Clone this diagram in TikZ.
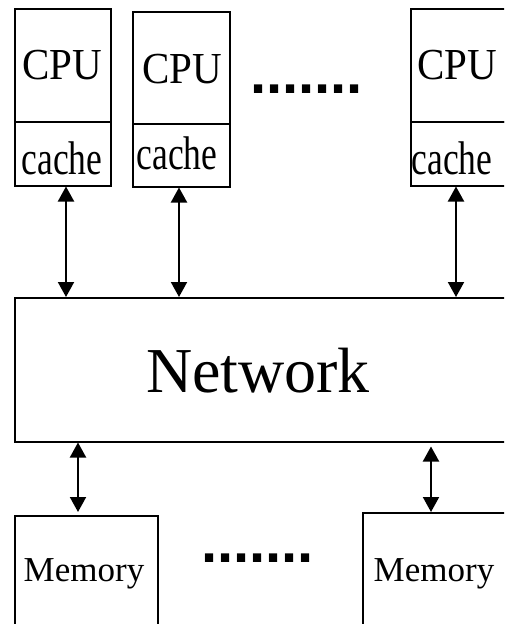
\documentclass[tikz,border=0pt]{standalone}
\usepackage{graphicx}
\usepackage{fontspec}
\setmainfont{Liberation Serif}
\newfontfamily\dotsfont{Liberation Sans}
\usetikzlibrary{arrows.meta}
\newcommand{\cpulbl}{\scalebox{1}[1.08]{\fontsize{41}{41}\selectfont CPU}}
\newcommand{\cachelbl}{\scalebox{1}[1.33]{\fontsize{35.5}{35.5}\selectfont cache}}
\tikzset{
  box/.style={draw, line width=1.5pt, rectangle, inner sep=0pt, anchor=north west},
  lbl/.style={anchor=base, inner sep=0pt},
  link/.style={line width=2pt, {Triangle[width=16pt,length=15pt]}-{Triangle[width=16pt,length=15pt]}},
  dotrow/.style={anchor=base west, inner sep=0pt, font=\dotsfont\bfseries\fontsize{58}{58}\selectfont}
}
\begin{document}
\begin{tikzpicture}[x=1pt,y=-1pt]
\useasboundingbox (0,0) rectangle (504,624);
\clip (0,0) rectangle (504,624);
% CPU boxes
\node[box, minimum width=96pt, minimum height=113pt] (cpu1) at (14,8) {};
\node[box, minimum width=96pt, minimum height=64pt] (cache1) at (14,121) {};
\node[box, minimum width=97pt, minimum height=112pt] (cpu2) at (132,11) {};
\node[box, minimum width=97pt, minimum height=63pt] (cache2) at (132,123) {};
\node[box, minimum width=110pt, minimum height=113pt] (cpu3) at (410,8) {};
\node[box, minimum width=110pt, minimum height=64pt] (cache3) at (410,121) {};
% labels
\node[lbl] (t1) at (62,79.5) {\cpulbl};
\node[lbl] (c1) at (62,174.5) {\cachelbl};
\node[lbl] (t2) at (182,83) {\cpulbl};
\node[lbl] (c2) at (177,169) {\cachelbl};
\node[lbl] (t3) at (457,79.5) {\cpulbl};
\node[lbl] (c3) at (452,174.5) {\cachelbl};
% dots
\node[dotrow] (dtop) at (250,93) {.......};
\node[dotrow] (dbot) at (201,562) {.......};
% network
\node[box, minimum width=506pt, minimum height=144pt] (net) at (14,297) {};
\node[lbl, font=\fontsize{64}{64}\selectfont] (nt) at (258,392) {Network};
% memory
\node[box, minimum width=143pt, minimum height=120pt] (mem1) at (14,515) {};
\node[box, minimum width=158pt, minimum height=120pt] (mem2) at (362,512) {};
\node[lbl, font=\fontsize{35}{35}\selectfont] (m1) at (84,581.5) {Memory};
\node[lbl, font=\fontsize{35}{35}\selectfont] (m2) at (434,581.5) {Memory};
% connectors
\draw[link] (cache1.south -| 66,0) -- (net.north -| 66,0);
\draw[link] (cache2.south -| 179,0) -- (net.north -| 179,0);
\draw[link] (cache3.south -| 456,0) -- (net.north -| 456,0);
\draw[link] (net.south -| 78,0) -- ([yshift=3pt]mem1.north -| 78,0);
\draw[link] ([yshift=-4pt]net.south -| 431,0) -- (mem2.north -| 431,0);
\end{tikzpicture}
\end{document}
